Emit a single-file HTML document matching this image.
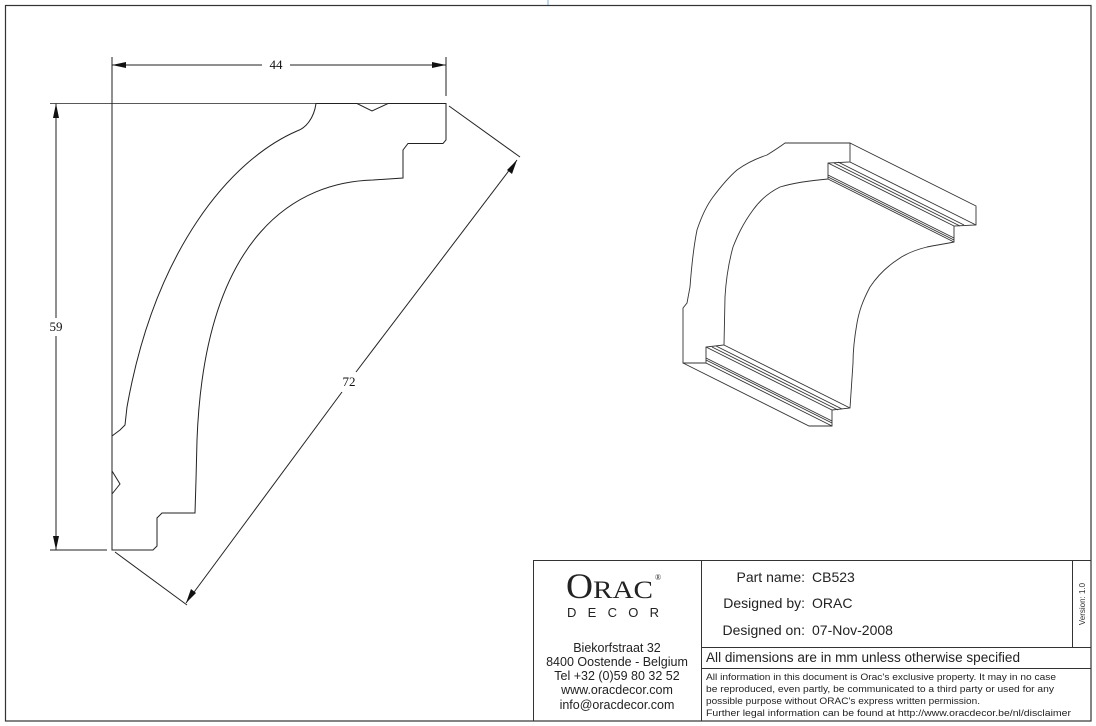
<!DOCTYPE html>
<html><head><meta charset="utf-8"><style>
html,body{margin:0;padding:0;background:#fff;}
svg{display:block;}
</style></head><body>
<svg width="1096" height="726" viewBox="0 0 1096 726" xmlns="http://www.w3.org/2000/svg">
<rect x="0" y="0" width="1096" height="726" fill="#fff"/>
<line x1="548" y1="0" x2="548" y2="5" stroke="#7fb0d8" stroke-width="1"/>
<rect x="5.5" y="5.5" width="1085.5" height="715.5" fill="none" stroke="#333" stroke-width="1.2"/>

<!-- profile -->
<g fill="none" stroke="#222" stroke-width="1">
<path d="M112,57 L112,550 L153,550 L157,546 L157,518 L162,513 L195,513 L196,480 L197,440 C205,230 300,182 373,180 L403,178 L403,150 L408,143.5 L443,143.5 L446,140 L446,103.5 L388,103.5 L372,111 L357,103.5 L316,103.5 C314,118 306,128 297,131 C230,160 155,250 127,407 L125,425 L120,430 L112,436 M112,471 L120,484 L112,494"/>
<line x1="446" y1="57" x2="446" y2="96"/>
<line x1="112" y1="65" x2="262" y2="65"/>
<line x1="290" y1="65" x2="446" y2="65"/>
<line x1="50" y1="103.5" x2="446" y2="103.5" stroke-width="0.8"/>
<line x1="50" y1="550" x2="107" y2="550"/>
<line x1="56" y1="103.5" x2="56" y2="318"/>
<line x1="56" y1="336" x2="56" y2="550"/>
<line x1="449" y1="106" x2="520" y2="157"/>
<line x1="115" y1="552" x2="187" y2="605"/>
<line x1="517" y1="160" x2="356" y2="372"/>
<line x1="342" y1="392" x2="186" y2="603"/>
</g>
<g fill="#111">
<polygon points="112,65 126,62 126,68"/>
<polygon points="446,65 432,62 432,68"/>
<polygon points="56,103.5 53,118 59,118"/>
<polygon points="56,550 53,536 59,536"/>
<polygon points="517,160 512,174 507,170"/>
<polygon points="186,603 191,589 196,593"/>
</g>
<g font-family="Liberation Serif, serif" font-size="13" fill="#111" text-anchor="middle">
<text x="276" y="69">44</text>
<text x="56" y="331">59</text>
<text x="349" y="386">72</text>
</g>

<!-- 3D view -->
<g fill="none" stroke="#333" stroke-width="0.9">
<path d="M785,143 L850,143 L850,162 L828,163 L828,179 C805,181 790,184 780,187 C770,192 760,200 753,210 C742,225 737,237 733,247 C728,265 726,280 725,297 L724,345 L706,347 L706,363 L683,363 L683,308 L687,303 L690,287 C692,260 694,245 697,230 C702,215 707,205 713,197 C722,185 730,176 737,170 C748,162 758,158 767,155 C775,150 781,146 785,143 Z"/>
<path d="M850,143 L976,206 L976,225 L954,226 L954,242 C945,244 936,245 927,247 C915,250 905,254 897,260 C885,268 876,278 870,287 C862,302 859,312 857,323 C854,340 853,350 853,363 L850,408 L832,410 L832,426 L809,426 L683,363"/>
<path d="M850,162 L976,225"/>
<path d="M828,163 L954,226"/>
<path d="M828,179 L954,242"/>
<path d="M834,163 L960,226 M838,162 L964,225 M828,175 L954,238 M828,177 L954,240"/>
<path d="M706,347 L832,410"/>
<path d="M706,363 L832,426"/>
<path d="M724,345 L850,408 M712,347 L838,410 M716,346 L842,409 M706,358 L832,421 M706,360 L832,423"/>
</g>

<!-- title block -->
<g fill="none" stroke="#333" stroke-width="1">
<rect x="533.5" y="560.5" width="557.5" height="160.5"/>
<line x1="701.5" y1="560" x2="701.5" y2="721"/>
<line x1="1072.5" y1="560" x2="1072.5" y2="647"/>
<line x1="701" y1="647.5" x2="1091" y2="647.5"/>
<line x1="701" y1="668.5" x2="1091" y2="668.5"/>
</g>
<g font-family="Liberation Serif, serif" fill="#222">
<text x="566" y="598" font-size="36" textLength="27" lengthAdjust="spacingAndGlyphs">O</text>
<text x="593" y="598" font-size="25" textLength="60" lengthAdjust="spacingAndGlyphs">RAC</text>
<text x="655" y="580" font-size="8">®</text>
</g>
<text x="567" y="617" font-family="Liberation Sans, sans-serif" font-size="13" fill="#222" textLength="92" lengthAdjust="spacing">DECOR</text>
<g font-family="Liberation Sans, sans-serif" font-size="12.5" fill="#222" text-anchor="middle">
<text x="617" y="652">Biekorfstraat 32</text>
<text x="617" y="666">8400 Oostende - Belgium</text>
<text x="617" y="680">Tel  +32 (0)59 80 32 52</text>
<text x="617" y="694">www.oracdecor.com</text>
<text x="617" y="709">info@oracdecor.com</text>
</g>
<g font-family="Liberation Sans, sans-serif" font-size="14" fill="#222">
<text x="805" y="582" text-anchor="end">Part name:</text>
<text x="812" y="582">CB523</text>
<text x="805" y="608" text-anchor="end">Designed by:</text>
<text x="812" y="608">ORAC</text>
<text x="805" y="635" text-anchor="end">Designed on:</text>
<text x="812" y="635">07-Nov-2008</text>
<text x="706" y="662" font-size="13.5" textLength="314" lengthAdjust="spacingAndGlyphs">All dimensions are in mm unless otherwise specified</text>
</g>
<g font-family="Liberation Sans, sans-serif" font-size="9" fill="#222">
<text x="706" y="680" textLength="350" lengthAdjust="spacingAndGlyphs">All information in this document is Orac's exclusive property.  It may in no case</text>
<text x="706" y="692" textLength="348" lengthAdjust="spacingAndGlyphs">be reproduced, even partly, be communicated to a third party or used for any</text>
<text x="706" y="704" textLength="274" lengthAdjust="spacingAndGlyphs">possible purpose without ORAC's express written permission.</text>
<text x="706" y="716" textLength="365" lengthAdjust="spacingAndGlyphs">Further legal information can be found at http://www.oracdecor.be/nl/disclaimer</text>
</g>
<text transform="translate(1085,604) rotate(-90)" font-family="Liberation Sans, sans-serif" font-size="8" fill="#333" text-anchor="middle">Version: 1.0</text>
</svg>
</body></html>
